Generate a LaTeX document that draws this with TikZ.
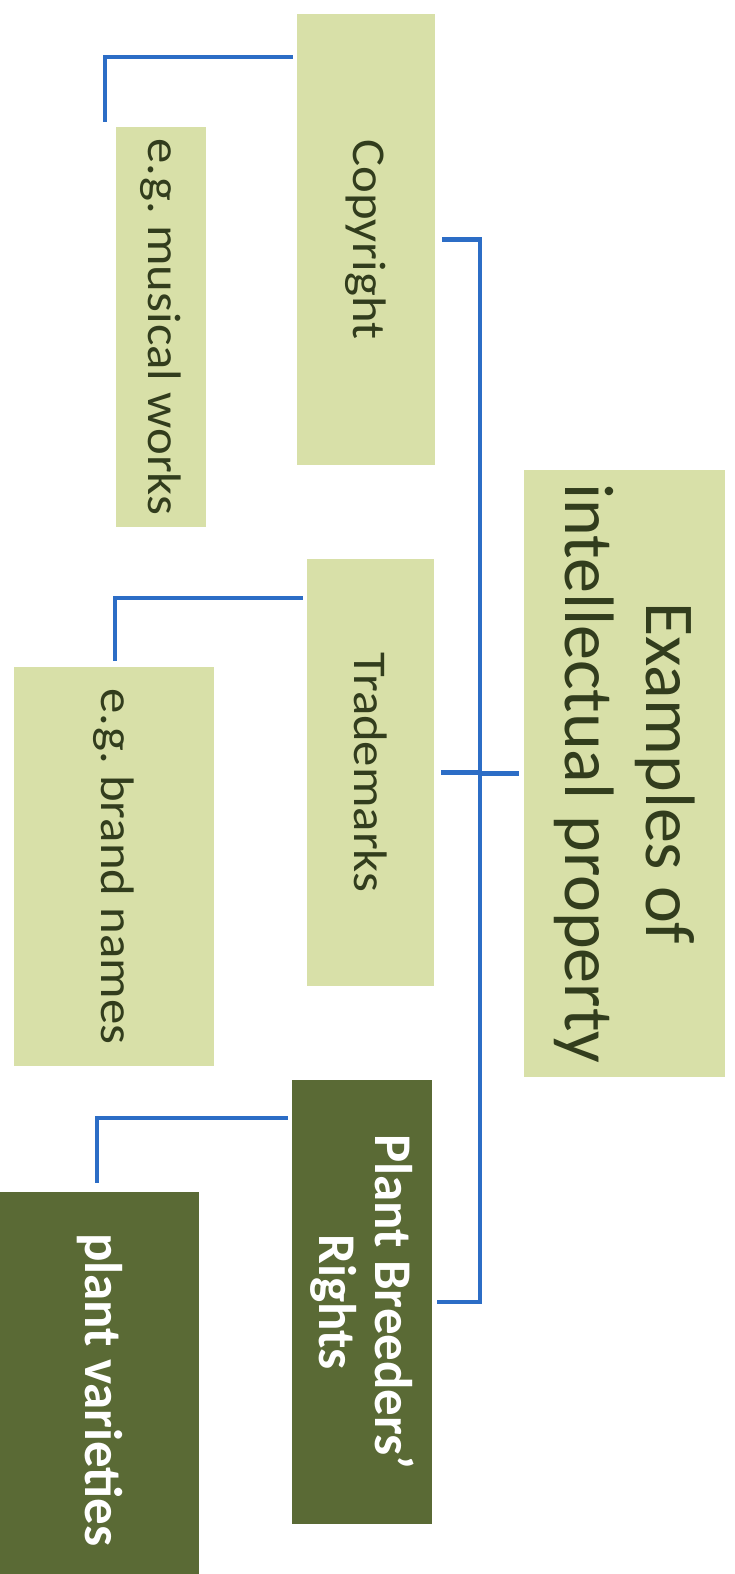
\documentclass[tikz,border=0pt]{standalone}
\usepackage{fontspec}
\setmainfont{Carlito}
\newfontfamily\secfont[FakeStretch=1.08]{Carlito}
\definecolor{lightg}{HTML}{D8E0A8}
\definecolor{darkg}{HTML}{5A6A35}
\definecolor{linkblue}{HTML}{2C6DC6}
\definecolor{txtg}{HTML}{323D1D}
\frenchspacing
\begin{document}
\begin{tikzpicture}[x=1pt,y=1pt,
  box/.style={rotate=-90, inner sep=0pt, align=center, anchor=center},
  lightbox/.style={box, fill=lightg, text=txtg, font=\secfont\fontsize{47}{55}\selectfont},
  mainbox/.style={box, fill=lightg, text=txtg, font=\fontsize{70}{81}\selectfont},
  darkbox/.style={box, fill=darkg, text=white, font=\fontsize{53}{56}\selectfont\bfseries},
  conn/.style={draw=linkblue, line width=4.5pt}]
\useasboundingbox (0,0) rectangle (735,-1574);

\node[mainbox, minimum width=607pt, minimum height=201pt] (main) at (624.5,-773.5) {Examples of\\intellectual property};
\node[lightbox, minimum width=451pt, minimum height=138pt] (copy) at (366,-239.5) {Copyright};
\node[lightbox, minimum width=400pt, minimum height=90pt] (music) at (161,-327) {e.g. musical works};
\node[lightbox, minimum width=427pt, minimum height=127pt] (trade) at (370.5,-772.5) {Trademarks};
\node[lightbox, minimum width=399pt, minimum height=200pt] (brand) at (114,-866.5) {e.g. brand names};
\node[darkbox, minimum width=444pt, minimum height=140pt] (pbr) at (362,-1302) {Plant Breeders’\\Rights};
\node[darkbox, minimum width=396pt, minimum height=199pt] (plant) at (99.5,-1390) {plant varieties};

\coordinate (trunk) at (480,-773);
\draw[conn, shorten <=5pt] (main.south) -- (trunk |- main.south);
\draw[conn, shorten <=7pt, shorten >=5pt] (copy.north) -- (trunk |- copy.north) -- (trunk |- pbr.north) -- (pbr.north);
\draw[conn, shorten <=7pt] (trade.north) -- (trunk |- trade.north);

\coordinate (k1) at (105,-57);
\coordinate (k2) at (115,-598);
\coordinate (k3) at (97,-1118);
\draw[conn, shorten <=4pt, shorten >=5pt] (copy.south |- k1) -- (k1) -- (k1 |- music.west);
\draw[conn, shorten <=4pt, shorten >=6pt] (trade.south |- k2) -- (k2) -- (k2 |- brand.west);
\draw[conn, shorten <=4pt, shorten >=9pt] (pbr.south |- k3) -- (k3) -- (k3 |- plant.west);
\end{tikzpicture}
\end{document}
